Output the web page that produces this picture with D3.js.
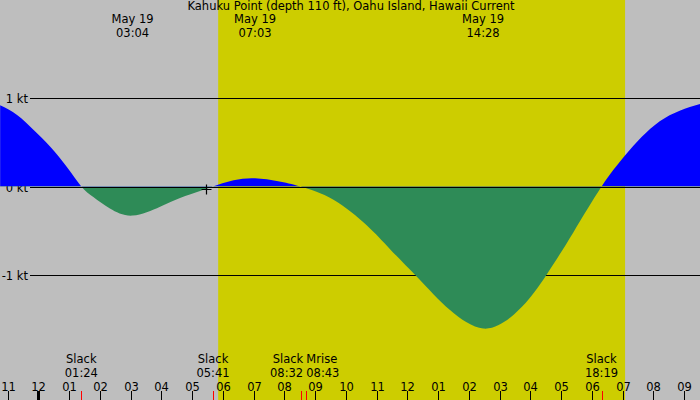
<!DOCTYPE html>
<html>
<head>
<meta charset="utf-8">
<script src="https://cdn.jsdelivr.net/npm/d3@7"></script>
<style>
  html, body { margin: 0; padding: 0; background: #bebebe; }
  svg { display: block; }
  text { font-family: "DejaVu Sans", sans-serif; font-size: 11.5px; fill: #000; }
</style>
</head>
<body>
<svg id="chart" width="700" height="400"></svg>
<script>
// ---- data (hours relative to midnight, May 19; negative = May 18) ----
const title = "Kahuku Point (depth 110 ft), Oahu Island, Hawaii Current";
const currentHours = [-1.24, -0.69, -0.15, 0.39, 0.93, 1.40, 1.79, 2.33, 3.07, 3.96, 4.61, 5.26, 5.68,
  6.35, 7.05, 7.80, 8.53, 9.60, 10.68, 11.44, 12.25, 12.85, 13.39, 13.93, 14.47, 14.97, 15.47, 15.97,
  16.53, 17.40, 18.32, 19.08, 19.62, 20.21, 20.86, 21.53];
const currentKnots = [0.92, 0.81, 0.64, 0.45, 0.22, 0, -0.12, -0.25, -0.33, -0.23, -0.13, -0.05, 0,
  0.07, 0.094, 0.06, 0, -0.15, -0.44, -0.71, -1.00, -1.22, -1.40, -1.54, -1.61, -1.57, -1.45, -1.27,
  -1.00, -0.52, 0, 0.35, 0.56, 0.74, 0.86, 0.935];
const extremaDates = ["May 19", "May 19", "May 19"];
const extremaTimes = ["03:04", "07:03", "14:28"];
const eventNames = ["Slack", "Slack", "Slack", "Mrise", "Slack"];
const eventTimes = ["01:24", "05:41", "08:32", "08:43", "18:19"];
const hourTickValues = [-1,0,1,2,3,4,5,6,7,8,9,10,11,12,13,14,15,16,17,18,19,20,21];
const hourTickLabels = ["11","12","01","02","03","04","05","06","07","08","09","10","11","12","01","02","03","04","05","06","07","08","09"];
const levelValues = [1, 0, -1];
const levelLabels = ["1 kt", "0 kt", "-1 kt"];
const sunrise = "05:51", sunset = "19:05";
const markerTime = "05:28";
const domainHours = [-1.245, 21.52];
const domainKnots = [-2.420, 2.114];

// ---- helpers ----
const toH = s => { const [h, m] = s.split(":").map(Number); return h + m / 60; };

const W = 700, H = 400;
const svg = d3.select("#chart");
const x = d3.scaleLinear().domain(domainHours).range([0, W]);
const y = d3.scaleLinear().domain(domainKnots).range([400, 0]);

const data = currentHours.map((h, i) => ({ h, v: currentKnots[i] }));

// background night / day
svg.append("rect").attr("x", 0).attr("y", 0).attr("width", W).attr("height", H).attr("fill", "#bebebe");
svg.append("rect")
  .attr("x", x(toH(sunrise))).attr("y", 0)
  .attr("width", x(toH(sunset)) - x(toH(sunrise))).attr("height", H)
  .attr("fill", "#cdcd00");

// level lines (under fill for +/-1)
const lv = svg.append("g");
levelValues.forEach((v, i) => {
  if (v !== 0) {
    lv.append("line").attr("x1", 30).attr("x2", W)
      .attr("y1", Math.round(y(v)) + 0.5).attr("y2", Math.round(y(v)) + 0.5)
      .attr("stroke", "#000").attr("stroke-width", 1);
  }
  lv.append("text").attr("x", 28).attr("y", Math.round(y(v)) + 0.5)
    .attr("text-anchor", "end").attr("dominant-baseline", "central").text(levelLabels[i]);
});

// clip paths for flood / ebb
const defs = svg.append("defs");
defs.append("clipPath").attr("id", "above").append("rect")
  .attr("x", 0).attr("y", 0).attr("width", W).attr("height", y(0));
defs.append("clipPath").attr("id", "below").append("rect")
  .attr("x", 0).attr("y", y(0)).attr("width", W).attr("height", H - y(0));

const area = d3.area()
  .x(d => x(d.h)).y0(y(0)).y1(d => y(d.v))
  .curve(d3.curveNatural);

svg.append("path").datum(data).attr("d", area).attr("fill", "#0000ff").attr("clip-path", "url(#above)");
svg.append("path").datum(data).attr("d", area).attr("fill", "#2e8b57").attr("clip-path", "url(#below)");

// zero line on top
svg.append("line").attr("x1", 30).attr("x2", W)
  .attr("y1", Math.round(y(0)) + 0.5).attr("y2", Math.round(y(0)) + 0.5)
  .attr("stroke", "#000").attr("stroke-width", 1);

// marker
const mx = Math.round(x(toH(markerTime))) + 0.5, my = Math.round(y(0)) + 2.5;
svg.append("path")
  .attr("d", `M${mx - 5},${my}H${mx + 5}M${mx},${my - 5}V${my + 5}`)
  .attr("stroke", "#000").attr("stroke-width", 1.2).attr("fill", "none");

// title
svg.append("text").attr("x", W / 2 + 1).attr("y", 9.5).attr("text-anchor", "middle").text(title);

// two-line label helper (single text element with tspans)
function twoLine(g, xx, y1, dy, anchor, l1, l2) {
  const t = g.append("text").attr("x", xx).attr("y", y1).attr("text-anchor", anchor);
  t.append("tspan").attr("x", xx).attr("y", y1).text(l1);
  t.append("tspan").attr("x", xx).attr("y", y1 + dy).text(l2);
}

// extrema labels at top
extremaTimes.forEach((t, i) => {
  twoLine(svg, x(toH(t)), 23.2, 13.5, "middle", extremaDates[i], t);
});

// hour ticks & labels
const axisG = svg.append("g");
hourTickValues.forEach((h, i) => {
  const xx = Math.round(x(h)) + 0.5;
  axisG.append("line").attr("x1", xx).attr("x2", xx).attr("y1", 391).attr("y2", H)
    .attr("stroke", "#000").attr("stroke-width", h === 0 ? 3 : 1);
  axisG.append("text").attr("x", xx).attr("y", 390.5).attr("text-anchor", "middle").text(hourTickLabels[i]);
});

// events
const evX = eventTimes.map(t => x(toH(t)));
eventTimes.forEach((t, i) => {
  const xx = evX[i];
  axisG.append("line").attr("x1", Math.round(xx) + 0.5).attr("x2", Math.round(xx) + 0.5)
    .attr("y1", 391).attr("y2", H).attr("stroke", "#ff0000").attr("stroke-width", 1);
  let anchor = "middle", lx = xx;
  if (i + 1 < evX.length && evX[i + 1] - xx < 25) { anchor = "end"; lx = xx + 2.5; }
  else if (i > 0 && xx - evX[i - 1] < 25) { anchor = "start"; lx = xx; }
  twoLine(axisG, lx, 363, 13.5, anchor, eventNames[i], t);
});
</script>
</body>
</html>
